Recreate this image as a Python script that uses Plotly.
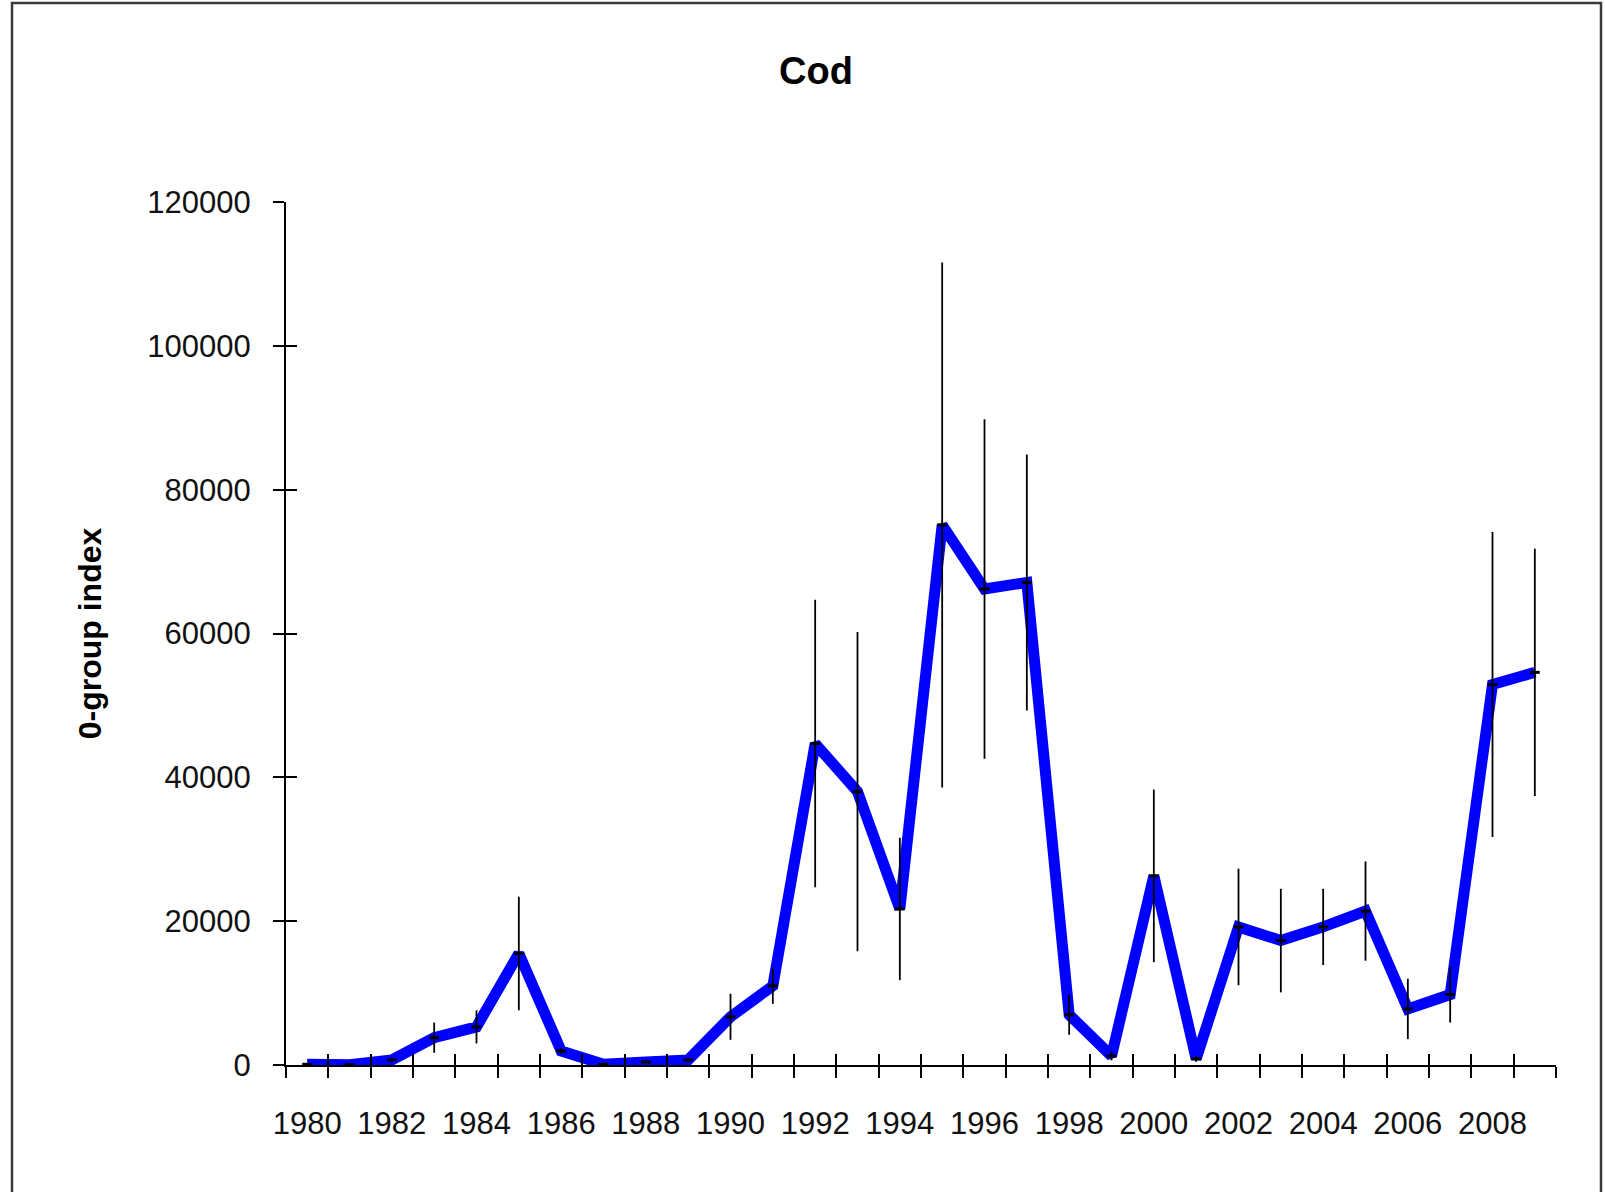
import plotly.graph_objects as go

# Cod 0-group index with error bars, 1980-2009
years = list(range(1980, 2010))
index = [100, 50, 700, 3800, 5300, 15500, 1950, 100, 420, 700,
         6700, 11000, 44700, 38000, 21700, 75100, 66200, 67100, 7000, 1250,
         26300, 850, 19200, 17300, 19200, 21400, 7800, 9800, 52900, 54600]
error = [100, 50, 300, 2100, 2300, 7900, 400, 100, 200, 300,
         3200, 2500, 20000, 22200, 9900, 36500, 23600, 17800, 2800, 600,
         12000, 400, 8100, 7200, 5300, 6900, 4200, 3900, 21200, 17200]
label_years = list(range(1980, 2010, 2))
y_ticks = [0, 20000, 40000, 60000, 80000, 100000, 120000]

FONT = "Arial, Liberation Sans, sans-serif"
W, H = 1605, 1192
L, R, T, B = 286, 49, 202, 127

# category boundaries (ticks sit between years, like an Excel category axis)
bounds = [y - 0.5 for y in years] + [years[-1] + 0.5]

fig = go.Figure()

# thick blue line
fig.add_trace(go.Scatter(
    x=years, y=index, mode="lines",
    line=dict(color="#0000FF", width=11),
    hoverinfo="skip", showlegend=False,
))

# error bars and small dash markers on top of the line
fig.add_trace(go.Scatter(
    x=years, y=index, mode="markers",
    marker=dict(symbol="line-ew", size=7, line=dict(color="black", width=3)),
    error_y=dict(type="data", array=error, visible=True,
                 color="black", thickness=1.8, width=0),
    showlegend=False,
))

# dummy trace so the overlay axes (inner half of the cross ticks) are drawn
fig.add_trace(go.Scatter(x=[years[0]], y=[0], xaxis="x2", yaxis="y2",
                         mode="markers", marker=dict(opacity=0),
                         hoverinfo="skip", showlegend=False))

axis_font = dict(family=FONT, size=31, color="#111111")

fig.update_layout(
    width=W, height=H,
    margin=dict(l=L, r=R, t=T, b=B, autoexpand=False),
    paper_bgcolor="white", plot_bgcolor="white",
    title=dict(text="<b>Cod</b>", font=dict(family=FONT, size=38, color="black"),
               xref="container", x=816 / W, xanchor="center",
               yref="container", y=1 - 71 / H, yanchor="middle"),
    xaxis=dict(
        range=[bounds[0], bounds[-1]], showgrid=False, zeroline=False,
        showline=True, linecolor="black", linewidth=2,
        tickmode="array", tickvals=label_years,
        ticktext=[str(y) for y in label_years],
        ticks="", tickfont=axis_font, ticklabelstandoff=30,
        minor=dict(tickmode="array", tickvals=bounds, ticks="outside",
                   ticklen=11, tickwidth=2, tickcolor="black", showgrid=False),
    ),
    xaxis2=dict(
        overlaying="x", matches="x", anchor="y2", showgrid=False,
        zeroline=False, showline=False, showticklabels=False,
        tickmode="array", tickvals=bounds, ticks="inside",
        ticklen=11, tickwidth=2, tickcolor="black",
    ),
    yaxis=dict(
        range=[0, 120000], showgrid=False, zeroline=False,
        showline=True, linecolor="black", linewidth=2,
        tickmode="array", tickvals=y_ticks,
        ticktext=[str(v) for v in y_ticks],
        ticks="outside", ticklen=11, tickwidth=2, tickcolor="black",
        tickfont=axis_font, ticklabelstandoff=16,
        title=dict(text="<b>0-group index</b>",
                   font=dict(family=FONT, size=32, color="black"),
                   standoff=36),
    ),
    yaxis2=dict(
        overlaying="y", matches="y", anchor="x2", showgrid=False,
        zeroline=False, showline=False, showticklabels=False,
        tickmode="array", tickvals=y_ticks, ticks="inside",
        ticklen=11, tickwidth=2, tickcolor="black",
    ),
)

# outer chart frame (pixel positions converted to paper coordinates)
pw, ph = W - L - R, H - T - B
fig.add_shape(type="rect", xref="paper", yref="paper",
              x0=(12 - L) / pw, x1=(1601 - L) / pw,
              y0=(H - B - 1210) / ph, y1=(H - B - 3) / ph,
              line=dict(color="#3a3a3a", width=2.5), fillcolor="rgba(0,0,0,0)",
              layer="below")

fig.write_html("out.html", config={"displayModeBar": False},
               post_script="document.body.style.margin='0';"
                           "document.body.style.overflow='hidden';")
